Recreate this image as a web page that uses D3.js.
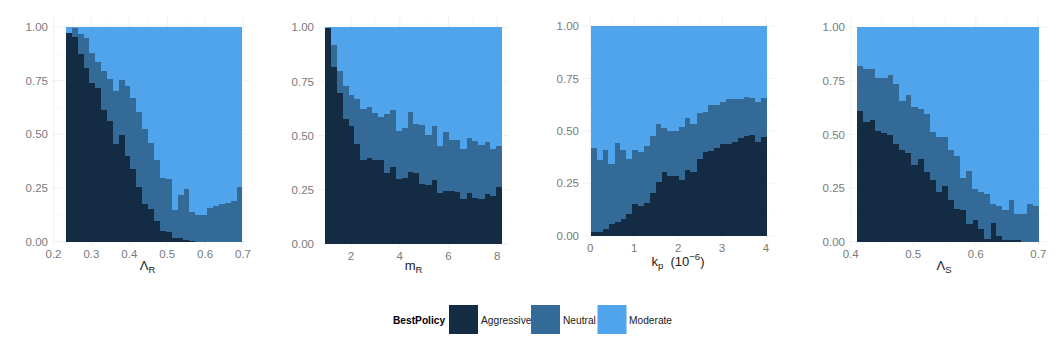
<!DOCTYPE html>
<html><head><meta charset="utf-8">
<script src="https://cdn.jsdelivr.net/npm/d3@7"></script>
<style>body{margin:0;background:#fff} text{font-family:"Liberation Sans",Arial,Helvetica,sans-serif}</style>
</head><body><svg id="c" width="1064" height="356"></svg>
<script>
const policies = ["Aggressive", "Neutral", "Moderate"];
const yTicks = [0, 0.25, 0.5, 0.75, 1];

// Panel 1: Lambda_R
const lambdaR_ticks = [0.2, 0.3, 0.4, 0.5, 0.6, 0.7];
const lambdaR_range = [0.233, 0.697];
const lambdaR_aggressive = [0.975,0.955,0.875,0.81,0.74,0.72,0.615,0.565,0.455,0.50,0.40,0.34,0.255,0.175,0.155,0.10,0.05,0.045,0.02,0.018,0.01,0.005,0,0,0,0,0,0,0,0];
const lambdaR_neutral = [0,0.045,0.095,0.14,0.14,0.12,0.18,0.195,0.25,0.255,0.325,0.33,0.35,0.35,0.305,0.28,0.25,0.25,0.13,0.202,0.235,0.135,0.125,0.125,0.16,0.17,0.175,0.18,0.19,0.255];

// Panel 2: m_R
const mR_ticks = [2, 4, 6, 8];
const mR_range = [0.934, 8.18];
const mR_aggressive = [1.0,0.82,0.70,0.58,0.545,0.465,0.39,0.40,0.39,0.39,0.33,0.355,0.30,0.305,0.335,0.33,0.28,0.275,0.295,0.235,0.245,0.245,0.24,0.21,0.235,0.215,0.21,0.23,0.225,0.265];
const mR_neutral = [0,0.10,0.10,0.15,0.145,0.205,0.235,0.235,0.215,0.20,0.27,0.265,0.225,0.23,0.275,0.225,0.27,0.23,0.25,0.22,0.275,0.235,0.24,0.23,0.255,0.26,0.25,0.24,0.215,0.19];

// Panel 3: k_p (10^-6)
const kp_ticks = [0, 1, 2, 3, 4];
const kp_range = [0.012, 4.012];
const kp_aggressive = [0.022,0.022,0.032,0.06,0.067,0.08,0.108,0.153,0.143,0.156,0.207,0.258,0.308,0.286,0.289,0.27,0.316,0.308,0.366,0.40,0.404,0.42,0.439,0.439,0.448,0.467,0.48,0.483,0.45,0.475];
const kp_neutral = [0.398,0.339,0.378,0.282,0.377,0.33,0.258,0.26,0.257,0.272,0.273,0.275,0.209,0.218,0.211,0.253,0.25,0.228,0.222,0.191,0.222,0.206,0.203,0.213,0.207,0.188,0.186,0.178,0.192,0.183];

// Panel 4: Lambda_S
const lambdaS_ticks = [0.4, 0.5, 0.6, 0.7];
const lambdaS_range = [0.41, 0.7006];
const lambdaS_aggressive = [0.61,0.56,0.57,0.52,0.51,0.50,0.46,0.43,0.417,0.362,0.39,0.327,0.29,0.236,0.26,0.195,0.155,0.15,0.085,0.105,0.06,0.015,0.09,0.03,0.012,0.008,0.008,0,0,0];
const lambdaS_neutral = [0.21,0.25,0.24,0.245,0.255,0.278,0.28,0.23,0.268,0.268,0.232,0.273,0.223,0.254,0.23,0.233,0.245,0.15,0.245,0.145,0.173,0.21,0.09,0.14,0.136,0.187,0.124,0.13,0.18,0.17];

const colors = {Aggressive: "#132B43", Neutral: "#336A98", Moderate: "#4FA4EC"};

const panels = [
  {ticks: lambdaR_ticks, range: lambdaR_range, aggr: lambdaR_aggressive, neut: lambdaR_neutral,
   px: [53.5, 243], py: [241.5, 27], left: 52, right: 250, title: "lambdaR", tx: 147.5, fmt: d3.format(".1f")},
  {ticks: mR_ticks, range: mR_range, aggr: mR_aggressive, neut: mR_neutral,
   px: [351, 497.3], py: [243.7, 27.3], left: 318, right: 509, title: "mR", tx: 413.5, fmt: d3.format("d")},
  {ticks: kp_ticks, range: kp_range, aggr: kp_aggressive, neut: kp_neutral,
   px: [590.3, 766], py: [235.7, 26], left: 583, right: 775, title: "kp", tx: 678, fmt: d3.format("d")},
  {ticks: lambdaS_ticks, range: lambdaS_range, aggr: lambdaS_aggressive, neut: lambdaS_neutral,
   px: [850.7, 1038.3], py: [241.7, 27.3], left: 849, right: 1047, title: "lambdaS", tx: 944, fmt: d3.format(".1f")}
];

const svg = d3.select("#c");

panels.forEach(p => {
  const x = d3.scaleLinear().domain([p.ticks[0], p.ticks[p.ticks.length - 1]]).range(p.px);
  const y = d3.scaleLinear().domain([0, 1]).range(p.py);
  const g = svg.append("g");
  const top = y(1) - 11, bottom = y(0) + 4;

  // gridlines
  const step = p.ticks[1] - p.ticks[0];
  const minorX = p.ticks.slice(0, -1).map(t => t + step / 2);
  const minorY = yTicks.slice(0, -1).map(t => t + 0.125);
  g.selectAll(".gmx").data(minorX).join("line")
    .attr("x1", d => x(d)).attr("x2", d => x(d)).attr("y1", top).attr("y2", bottom)
    .attr("stroke", "#f4f4f4").attr("stroke-width", 0.5);
  g.selectAll(".gmy").data(minorY).join("line")
    .attr("x1", p.left).attr("x2", p.right).attr("y1", d => y(d)).attr("y2", d => y(d))
    .attr("stroke", "#f4f4f4").attr("stroke-width", 0.5);
  g.selectAll(".gx").data(p.ticks).join("line")
    .attr("x1", d => x(d)).attr("x2", d => x(d)).attr("y1", top).attr("y2", bottom)
    .attr("stroke", "#eeeeee").attr("stroke-width", 0.8);
  g.selectAll(".gy").data(yTicks).join("line")
    .attr("x1", p.left).attr("x2", p.right).attr("y1", d => y(d)).attr("y2", d => y(d))
    .attr("stroke", "#eeeeee").attr("stroke-width", 0.8);

  // bins
  const n = p.aggr.length;
  const w = (p.range[1] - p.range[0]) / n;
  const rows = p.aggr.map((a, i) => ({
    x0: p.range[0] + i * w, x1: p.range[0] + (i + 1) * w,
    Aggressive: a, Neutral: p.neut[i], Moderate: Math.max(0, 1 - a - p.neut[i])
  }));
  const stacked = d3.stack().keys(policies)(rows);
  stacked.forEach(layer => {
    g.append("g").attr("fill", colors[layer.key]).attr("shape-rendering", "crispEdges")
      .selectAll("rect").data(layer).join("rect")
      .attr("x", d => x(d.data.x0))
      .attr("width", d => x(d.data.x1) - x(d.data.x0) + 0.5)
      .attr("y", d => y(Math.min(1, d[1])))
      .attr("height", d => Math.max(0, y(d[0]) - y(Math.min(1, d[1]))) + 0.5);
  });

  // y labels
  g.selectAll(".yl").data(yTicks).join("text")
    .attr("x", p.left - 4).attr("y", d => y(d)).attr("dy", "0.36em")
    .attr("text-anchor", "end").attr("font-size", "11.5px").attr("fill", "#7a7a7a")
    .text(d3.format(".2f"));
  // x labels
  g.selectAll(".xl").data(p.ticks).join("text")
    .attr("x", d => x(d)).attr("y", y(0) + 12).attr("dy", "0.36em")
    .attr("text-anchor", "middle").attr("font-size", "11.5px").attr("fill", "#7a7a7a")
    .text(p.fmt);

  // axis title
  const t = g.append("text").attr("x", p.tx).attr("y", 269.5)
    .attr("text-anchor", "middle").attr("font-size", "13px").attr("fill", "#1a1a1a");
  if (p.title === "lambdaR" || p.title === "lambdaS") {
    t.append("tspan").text("Λ");
    t.append("tspan").attr("dy", 3).attr("font-size", "9.5px").text(p.title === "lambdaR" ? "R" : "S");
  } else if (p.title === "mR") {
    t.append("tspan").text("m");
    t.append("tspan").attr("dy", 3).attr("font-size", "9.5px").text("R");
  } else {
    t.attr("y", 266);
    t.append("tspan").text("k");
    t.append("tspan").attr("dy", 3).attr("font-size", "9.5px").text("p");
    t.append("tspan").attr("dy", -3).text("\u00a0\u00a0(10");
    t.append("tspan").attr("dy", -6).attr("font-size", "9.5px").text("−6");
    t.append("tspan").attr("dy", 6).text(")");
  }
});

// legend
const lg = svg.append("g");
lg.append("text").attr("x", 393).attr("y", 320).attr("dy", "0.36em")
  .attr("font-size", "10.2px").attr("font-weight", "bold").attr("fill", "#000").text("BestPolicy");
const keyX = [449, 531, 597.5];
const labX = [481, 563, 629];
policies.forEach((k, i) => {
  lg.append("rect").attr("x", keyX[i]).attr("y", 305).attr("width", 29).attr("height", 29).attr("fill", colors[k]);
  lg.append("text").attr("x", labX[i]).attr("y", 320).attr("dy", "0.36em")
    .attr("font-size", "10.2px").attr("fill", "#1a1a1a").text(k);
});
</script></body></html>
